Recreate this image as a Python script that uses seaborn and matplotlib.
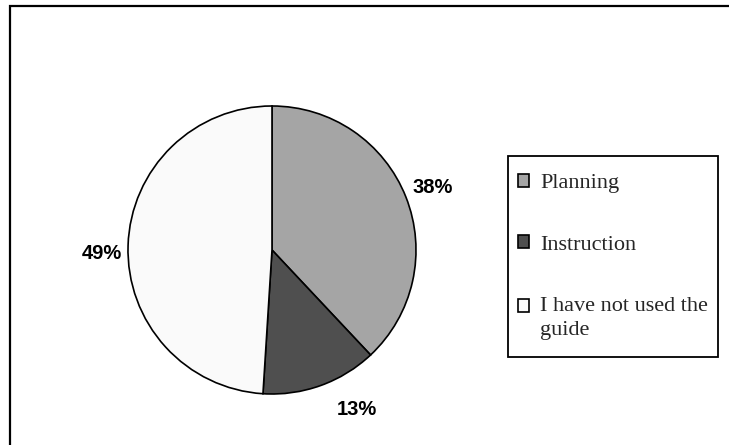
import matplotlib
matplotlib.use("Agg")
import matplotlib.pyplot as plt
import seaborn as sns
from matplotlib.patches import Rectangle

sns.set_theme(style="white")

categories = ["Planning", "Instruction", "I have not used the\nguide"]
shares = [38, 13, 49]
colors = ["#a5a5a5", "#4f4f4f", "#fafafa"]

W, H = 729, 445
fig = plt.figure(figsize=(W / 100, H / 100), dpi=100)
fig.patch.set_facecolor("white")

# pie axes: centre (272, 250) px, radius 144 px
cx, cy, r = 272, 250, 144
ax = fig.add_axes([(cx - r) / W, (H - cy - r) / H, 2 * r / W, 2 * r / H])
wedges, texts, autotexts = ax.pie(
    shares,
    colors=colors,
    startangle=90,
    counterclock=False,
    autopct=lambda p: f"{p:.0f}%",
    pctdistance=1.2,
    wedgeprops=dict(edgecolor="black", linewidth=1.2),
    textprops=dict(fontsize=14.5, fontweight="bold",
                   family="Liberation Sans", color="black"),
)
ax.set_xlim(-1, 1)
ax.set_ylim(-1, 1)
ax.set_aspect("equal")
ax.axis("off")

# nudge percentage labels (axes-radius units)
nudges = [(0.0, -0.01), (0.185, 0.02), (0.02, -0.06)]
for t, (dx, dy) in zip(autotexts, nudges):
    x, y = t.get_position()
    t.set_position((x + dx, y + dy))

# legend box drawn separately so its size can be set exactly
fig.patches.append(Rectangle((508 / W, 1 - 357 / H), 210 / W, 201 / H,
                             transform=fig.transFigure, facecolor="white",
                             edgecolor="black", linewidth=1.3, zorder=2))

leg = fig.legend(
    wedges, categories,
    loc="upper left",
    bbox_to_anchor=(518 / W, 1 - 174 / H),
    borderaxespad=0,
    borderpad=0,
    frameon=False,
    handlelength=0.5,
    handleheight=0.5,
    handletextpad=0.5,
    labelspacing=1.9,
    prop=dict(family="Liberation Serif", size=16),
)
leg.set_zorder(3)
for h in leg.legend_handles:
    h.set_edgecolor("black")
    h.set_linewidth(1.2)
for t in leg.get_texts():
    t.set_linespacing(1.35)
# key of the two-line entry sits beside its first line
last = leg.legend_handles[2]
last.set_y(last.get_y() + 8.5)

# outer chart-area border (left and top edges visible)
fig.patches.append(Rectangle((10 / W, -0.2), 1.2, 1.2 + (H - 6) / H - 1.0,
                             transform=fig.transFigure, fill=False,
                             edgecolor="black", linewidth=1.6))

fig.savefig("out.png", dpi=100, facecolor="white")
